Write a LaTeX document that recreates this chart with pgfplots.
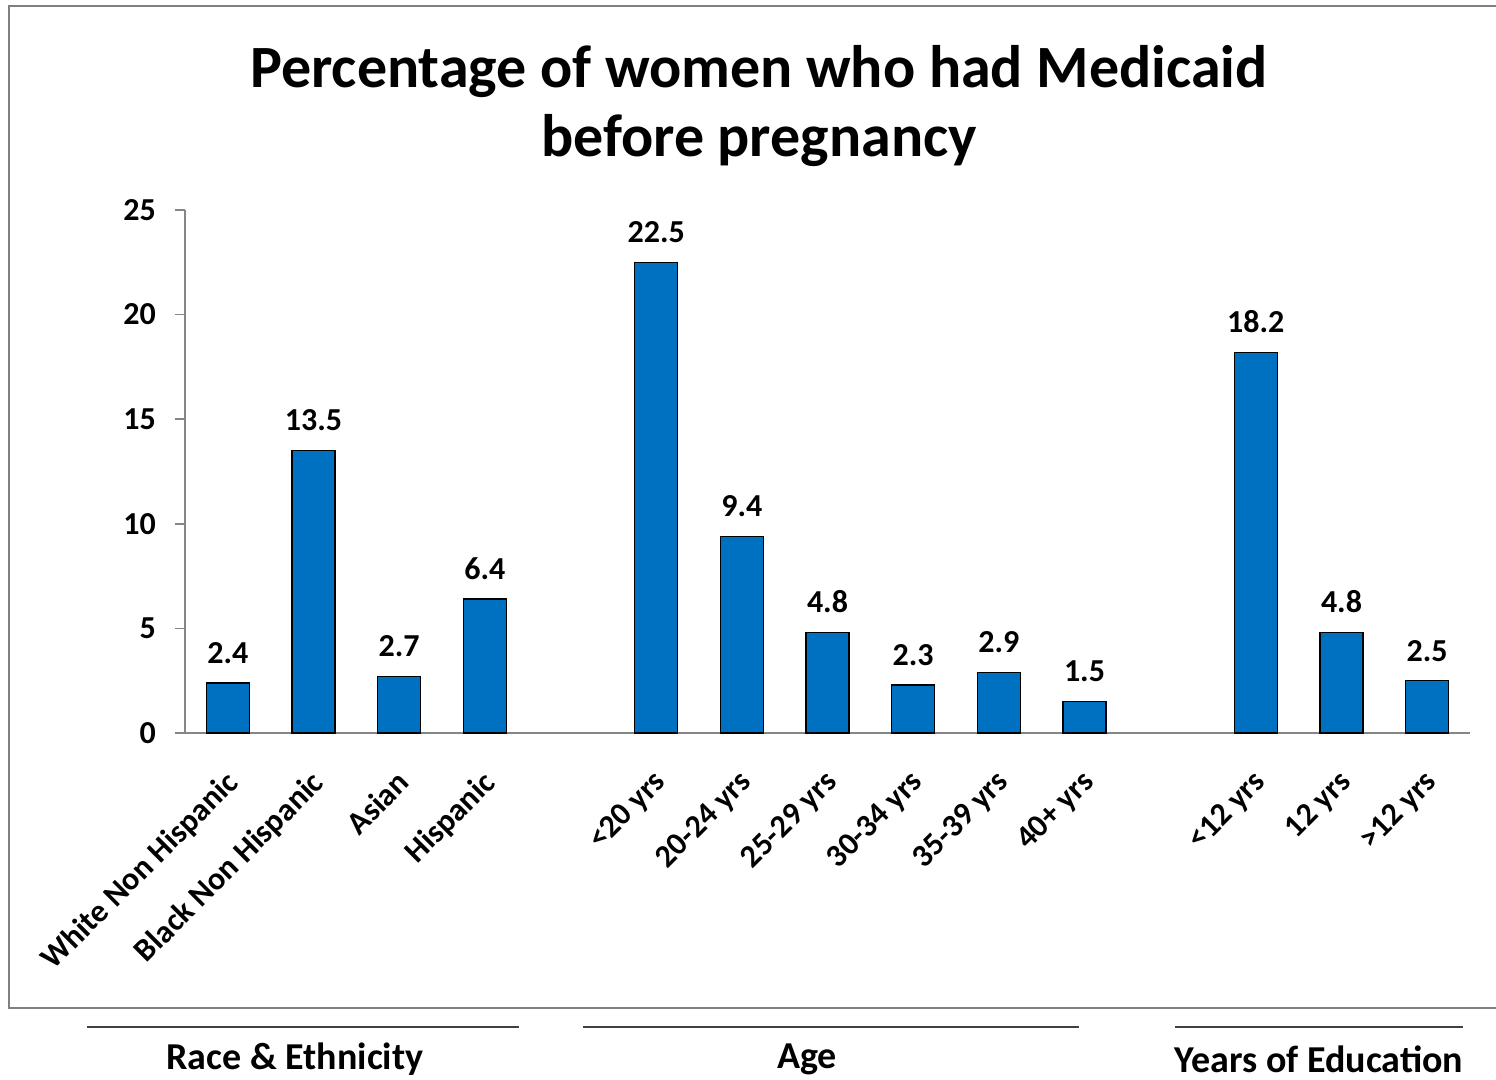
\documentclass[border=0pt]{standalone}
\usepackage{pgfplots}
\pgfplotsset{compat=1.18}
\usepackage{fontspec}
\setmainfont{Carlito}
\definecolor{barblue}{HTML}{0070C0}
\definecolor{axisgray}{HTML}{868686}
\definecolor{framegray}{HTML}{808080}
\definecolor{rulegray}{HTML}{404040}
\begin{document}
\begin{tikzpicture}[x=1pt,y=1pt]
\useasboundingbox (-92.5,-173.5) rectangle (655.5,366.5);
% outer chart frame
\draw[framegray, line width=1.3pt] (-88,-137.5) rectangle (662,363.5);
% title
\node[align=center, font=\fontsize{30}{34.5}\selectfont\bfseries] at (287,313.5)
  {Percentage of women who had Medicaid\\before pregnancy};
\begin{axis}[
  at={(0,0)}, anchor=south west,
  scale only axis, width=642.5pt, height=261.5pt,
  xmin=-0.5, xmax=14.5, ymin=0, ymax=25,
  enlargelimits=false,
  axis lines*=left,
  axis line style={axisgray, line width=0.75pt},
  every tick/.style={axisgray, line width=0.75pt},
  tick align=outside,
  /pgf/number format/assume math mode=true,
  ytick={0,5,...,25},
  major tick length=5pt,
  xtick={0,1,2,3,5,6,7,8,9,10,12,13,14},
  xticklabels={White Non Hispanic,Black Non Hispanic,Asian,Hispanic,
    <20 yrs,20-24 yrs,25-29 yrs,30-34 yrs,35-39 yrs,40+ yrs,
    <12 yrs,12 yrs,>12 yrs},
  x tick style={draw=none},
  minor xtick={-0.5,0.5,...,14.5},
  minor x tick style={axisgray, line width=0.75pt},
  minor tick length=5pt,
  yticklabel style={font=\fontsize{16}{18}\selectfont\bfseries, xshift=-6pt},
  xticklabel style={font=\fontsize{16}{18}\selectfont\bfseries,
    xshift=-2pt, yshift=-8pt, rotate=45, anchor=north east},
  ybar, bar width=21.5pt,
  nodes near coords,
  nodes near coords style={font=\fontsize{16}{18}\selectfont\bfseries,
    /pgf/number format/fixed, /pgf/number format/precision=1,
    /pgf/number format/fixed zerofill, yshift=6pt},
  clip=false,
]
\addplot[fill=barblue, draw=black, line width=0.75pt] coordinates {
  (0,2.4) (1,13.5) (2,2.7) (3,6.4)
  (5,22.5) (6,9.4) (7,4.8) (8,2.3) (9,2.9) (10,1.5)
  (12,18.2) (13,4.8) (14,2.5)
};
\end{axis}
% group captions below the frame
\draw[rulegray, line width=1pt] (-49,-147) -- (167,-147);
\draw[rulegray, line width=1pt] (199,-147) -- (447,-147);
\draw[rulegray, line width=1pt] (495,-147) -- (639,-147);
\node[font=\fontsize{19}{22}\selectfont\bfseries] at (55,-163) {Race \& Ethnicity};
\node[font=\fontsize{19}{22}\selectfont\bfseries] at (311,-163) {Age};
\node[font=\fontsize{19}{22}\selectfont\bfseries] at (567,-163) {Years of Education};
\end{tikzpicture}
\end{document}
